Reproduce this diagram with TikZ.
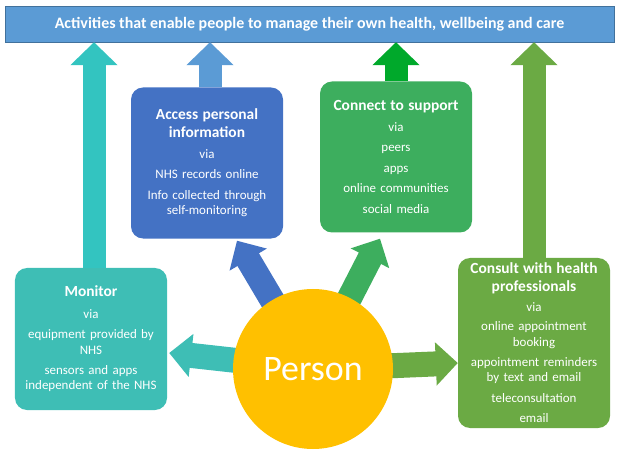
\documentclass[tikz,border=0pt]{standalone}
\usepackage{fontspec}
\setmainfont{Carlito}
\usepackage{tikz}
\usetikzlibrary{arrows.meta, calc, backgrounds}

\definecolor{barblue}{HTML}{5B9BD5}
\definecolor{barline}{HTML}{41719C}
\definecolor{accessblue}{HTML}{4472C4}
\definecolor{connectgreen}{HTML}{3DAE5E}
\definecolor{supportgreen}{HTML}{00A92B}
\definecolor{monitorteal}{HTML}{3EBEB5}
\definecolor{uptteal}{HTML}{33C4C0}
\definecolor{consultgreen}{HTML}{6BAA44}
\definecolor{personyellow}{HTML}{FFC000}

\newcommand{\boxhead}[1]{{\fontsize{15.5}{18}\selectfont\bfseries #1\par}}

\begin{document}
\begin{tikzpicture}[
    x=1bp, y=-1bp,
    box/.style={rectangle, rounded corners=12bp, text=white, minimum width=152bp,
                text width=148bp, align=center, inner sep=2bp, font=\fontsize{13}{15.5}\selectfont},
    fatarrow/.style={line width=23bp, -{Triangle[width=46bp, length=23bp]}},
    outarrow/.style={line width=25bp, -{Triangle[width=42bp, length=22bp]}}
]
    \useasboundingbox (0,0) rectangle (620,455);

    \node[rectangle, draw=barline, fill=barblue, minimum width=609bp, minimum height=36bp,
          text=white, font=\fontsize{16}{19}\selectfont\bfseries] (bar) at (309.5,24)
        {Activities that enable people to manage their own health, wellbeing and care};

    \node[box, fill=accessblue, minimum height=151bp] (access) at (207,163)
        {\boxhead{Access personal\\ information}\vspace{5pt}
         via\\[5pt] NHS records online\\[5pt] Info collected through\\ self-monitoring};
    \node[box, fill=connectgreen, minimum height=151bp] (connect) at (396,157)
        {\boxhead{Connect to support}\vspace{5pt}
         via\\[5pt] peers\\[5pt] apps\\[5pt] online communities\\[5pt] social media};
    \node[box, fill=monitorteal, minimum height=142bp] (monitor) at (91,339)
        {\boxhead{Monitor}\vspace{6pt}
         via\\[5pt] equipment provided by\\ NHS\\[5pt] sensors and apps\\ independent of the NHS};
    \node[box, fill=consultgreen, minimum height=170bp] (consult) at (534,343)
        {\boxhead{Consult with health\\ professionals}\vspace{4pt}
         via\\[4pt] online appointment\\ booking\\[5pt] appointment reminders\\ by text and email\\[5pt]
         teleconsultation\\[5pt] email};

    \node[circle, fill=personyellow, minimum size=160bp, text=white,
          font=\fontsize{36}{40}\selectfont] (person) at (313,369) {Person};

    % arrows up to the bar
    \coordinate (monitorfoot) at ($(monitor.north)+(3,0)$);
    \coordinate (accessfoot) at ($(access.north)+(3,0)$);
    \draw[fatarrow, uptteal] (monitorfoot) -- (monitorfoot |- bar.south);
    \draw[fatarrow, barblue] (accessfoot) -- (accessfoot |- bar.south);
    \draw[fatarrow, supportgreen] (connect.north) -- (connect.north |- bar.south);
    \draw[fatarrow, consultgreen] (consult.north) -- (consult.north |- bar.south);

    % arrows out of the person
    \coordinate (accesstip) at ($(access.south)+(30,2)$);
    \coordinate (connecttip) at ($(connect.south)+(-16,6)$);
    \coordinate (monitortip) at ($(monitor.east)+(2,14)$);
    \coordinate (consulttip) at ($(consult.west)+(0,20)$);
    \begin{scope}[on background layer]
        \draw[outarrow, accessblue] (person.center) -- (accesstip);
        \draw[outarrow, connectgreen] (person.center) -- (connecttip);
        \draw[outarrow, monitorteal] (person.center) -- (monitortip);
        \draw[outarrow, consultgreen] (person.center) -- (consulttip);
    \end{scope}
\end{tikzpicture}
\end{document}
